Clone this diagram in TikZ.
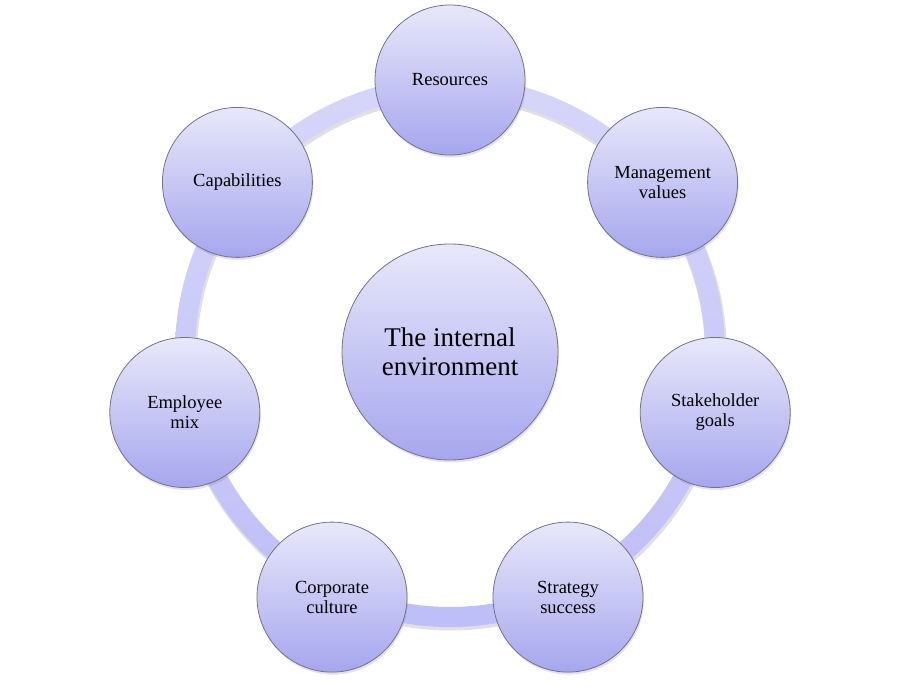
\documentclass[tikz,border=0pt]{standalone}
\usepackage{fontspec}
\setmainfont{Liberation Serif}
\usetikzlibrary{shadows}
\definecolor{fillTop}{RGB}{232,232,251}
\definecolor{fillBot}{RGB}{166,166,238}
\definecolor{ringTop}{RGB}{214,214,250}
\definecolor{ringBot}{RGB}{190,190,248}
\definecolor{edgeGray}{RGB}{115,115,135}
\tikzset{
  bubble/.style={circle, draw=edgeGray, line width=0.8pt, top color=fillTop, bottom color=fillBot,
    minimum size=150pt, inner sep=0pt, align=center, font=\fontsize{18.5pt}{20pt}\selectfont,
    drop shadow={opacity=0.22, shadow xshift=1pt, shadow yshift=-2.5pt}},
  hub/.style={bubble, minimum size=216pt, font=\fontsize{27pt}{29pt}\selectfont},
}
\begin{document}
\begin{tikzpicture}[x=1pt,y=-1pt]
\useasboundingbox (0,0) rectangle (900,700);
\fill[white] (0,0) rectangle (900,700);
% ring shadow
\fill[black, opacity=0.12, even odd rule] (451,354.5) circle (276) (451,354.5) circle (254);
% ring
\shade[top color=ringTop, bottom color=ringBot, even odd rule] (450,352) circle (275) (450,352) circle (255);
\node[hub] (center) at (450,352) {The internal\\environment};
\node[bubble] (res) at (450,80) {Resources};
\node[bubble] (mgmt) at (662.6,182.4) {Management\\values};
\node[bubble] (stake) at (715.2,412.5) {Stakeholder\\goals};
\node[bubble] (strat) at (568,597.1) {Strategy\\success};
\node[bubble] (corp) at (332,597.1) {Corporate\\culture};
\node[bubble] (emp) at (184.8,412.5) {Employee\\mix};
\node[bubble] (cap) at (237.4,182.4) {Capabilities};
\end{tikzpicture}
\end{document}
